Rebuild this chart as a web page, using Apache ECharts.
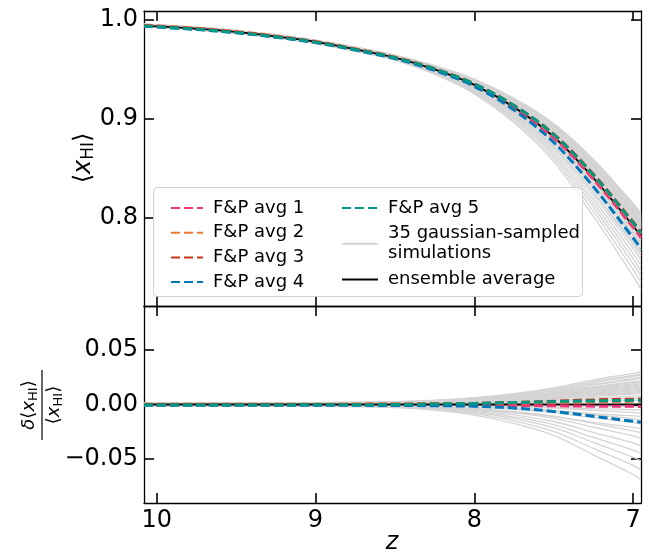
<!DOCTYPE html>
<html><head><meta charset="utf-8">
<script src="https://cdn.jsdelivr.net/npm/echarts@6/dist/echarts.min.js"></script>
<style>html,body{margin:0;padding:0;background:#fff}#c{width:649px;height:552px}</style>
</head><body><div id="c"></div>
<script>
// ---- data ----
const zValues = [10.08, 9.75, 9.5, 9.25, 9.0, 8.75, 8.5, 8.25, 8.0, 7.75, 7.5, 7.25, 7.0, 6.95];
const ensembleAverage = [0.9940, 0.9908, 0.9875, 0.9830, 0.9775, 0.9700, 0.9615, 0.9497, 0.9340, 0.9115, 0.8815, 0.8400, 0.7915, 0.7810];
const ensembleDelta = [0, 0, 0, 0, 0, 0, 0, 0, 0, 0, 0, 0, 0, 0];
const fpNames = ['F&P avg 1', 'F&P avg 2', 'F&P avg 3', 'F&P avg 4', 'F&P avg 5'];
const fpDelta1 = [0, 0, 0, 0, 0, 0, -0.0001, -0.0002, -0.0004, -0.0008, -0.0012, -0.0015, -0.0017, -0.0018];
const fpDelta2 = [0.0003, 0.0003, 0.0003, 0.0003, 0.0003, 0.0004, 0.0005, 0.0007, 0.0010, 0.0014, 0.0019, 0.0024, 0.0029, 0.0030];
const fpDelta3 = [0, 0, 0, 0, 0, 0.0001, 0.0002, 0.0004, 0.0009, 0.0018, 0.0030, 0.0042, 0.0049, 0.0050];
const fpDelta4 = [-0.0008, -0.0008, -0.0008, -0.0008, -0.0008, -0.0008, -0.0009, -0.0011, -0.0016, -0.0032, -0.0064, -0.0108, -0.0154, -0.0163];
const fpDelta5 = [-0.0005, -0.0005, -0.0005, -0.0004, -0.0003, -0.0002, 0, 0.0005, 0.0010, 0.0018, 0.0026, 0.0033, 0.0038, 0.0039];
const simName = '35 gaussian-sampled simulations';
const simDeltas = [
  [0.0015,0.0015,0.0015,0.0017,0.0018,0.0021,0.0026,0.0039,0.0063,0.0099,0.0153,0.0225,0.0285,0.0300],
  [0.0014,0.0014,0.0014,0.0015,0.0017,0.0020,0.0024,0.0036,0.0059,0.0092,0.0143,0.0210,0.0266,0.0280],
  [0.0014,0.0014,0.0014,0.0015,0.0016,0.0019,0.0023,0.0035,0.0057,0.0089,0.0138,0.0203,0.0257,0.0270],
  [0.0013,0.0013,0.0013,0.0014,0.0015,0.0018,0.0021,0.0033,0.0053,0.0083,0.0128,0.0188,0.0238,0.0250],
  [0.0012,0.0012,0.0012,0.0013,0.0014,0.0017,0.0020,0.0031,0.0050,0.0079,0.0122,0.0180,0.0228,0.0240],
  [0.0011,0.0011,0.0011,0.0012,0.0013,0.0015,0.0019,0.0029,0.0046,0.0073,0.0112,0.0165,0.0209,0.0220],
  [0.0011,0.0011,0.0011,0.0012,0.0013,0.0015,0.0018,0.0027,0.0044,0.0069,0.0107,0.0158,0.0200,0.0210],
  [0.0010,0.0010,0.0010,0.0011,0.0012,0.0014,0.0017,0.0026,0.0042,0.0066,0.0102,0.0150,0.0190,0.0200],
  [0.0010,0.0010,0.0010,0.0010,0.0011,0.0013,0.0016,0.0025,0.0040,0.0063,0.0097,0.0143,0.0181,0.0190],
  [0.0009,0.0009,0.0009,0.0010,0.0011,0.0013,0.0015,0.0023,0.0038,0.0059,0.0092,0.0135,0.0171,0.0180],
  [0.0009,0.0009,0.0009,0.0009,0.0010,0.0012,0.0014,0.0022,0.0036,0.0056,0.0087,0.0128,0.0162,0.0170],
  [0.0008,0.0008,0.0008,0.0009,0.0010,0.0011,0.0014,0.0021,0.0034,0.0053,0.0082,0.0120,0.0152,0.0160],
  [0.0008,0.0008,0.0008,0.0008,0.0009,0.0011,0.0013,0.0020,0.0032,0.0050,0.0077,0.0113,0.0143,0.0150],
  [0.0007,0.0007,0.0007,0.0008,0.0008,0.0010,0.0012,0.0018,0.0029,0.0046,0.0071,0.0105,0.0133,0.0140],
  [0.0007,0.0007,0.0007,0.0007,0.0008,0.0009,0.0011,0.0017,0.0027,0.0043,0.0066,0.0098,0.0124,0.0130],
  [0.0006,0.0006,0.0006,0.0007,0.0007,0.0008,0.0010,0.0016,0.0025,0.0040,0.0061,0.0090,0.0114,0.0120],
  [0.0006,0.0006,0.0006,0.0006,0.0007,0.0008,0.0009,0.0014,0.0023,0.0036,0.0056,0.0083,0.0105,0.0110],
  [0.0005,0.0005,0.0005,0.0006,0.0006,0.0007,0.0009,0.0013,0.0021,0.0033,0.0051,0.0075,0.0095,0.0100],
  [0.0004,0.0004,0.0004,0.0004,0.0005,0.0006,0.0007,0.0010,0.0017,0.0026,0.0041,0.0060,0.0076,0.0080],
  [0.0003,0.0003,0.0003,0.0003,0.0004,0.0004,0.0005,0.0008,0.0013,0.0020,0.0031,0.0045,0.0057,0.0060],
  [0.0002,0.0002,0.0002,0.0002,0.0002,0.0003,0.0003,0.0005,0.0008,0.0013,0.0020,0.0030,0.0038,0.0040],
  [-0.0001,-0.0001,-0.0001,-0.0001,-0.0001,-0.0001,-0.0002,-0.0003,-0.0004,-0.0007,-0.0010,-0.0015,-0.0019,-0.0020],
  [-0.0003,-0.0003,-0.0003,-0.0003,-0.0003,-0.0004,-0.0004,-0.0007,-0.0011,-0.0017,-0.0026,-0.0038,-0.0048,-0.0050],
  [-0.0002,-0.0002,-0.0002,-0.0002,-0.0002,-0.0002,-0.0003,-0.0006,-0.0011,-0.0020,-0.0033,-0.0054,-0.0074,-0.0080],
  [-0.0006,-0.0006,-0.0006,-0.0006,-0.0007,-0.0008,-0.0009,-0.0014,-0.0023,-0.0036,-0.0056,-0.0083,-0.0105,-0.0110],
  [-0.0003,-0.0003,-0.0003,-0.0003,-0.0004,-0.0004,-0.0006,-0.0011,-0.0020,-0.0035,-0.0057,-0.0094,-0.0130,-0.0140],
  [-0.0004,-0.0004,-0.0004,-0.0004,-0.0005,-0.0005,-0.0007,-0.0014,-0.0025,-0.0045,-0.0074,-0.0121,-0.0167,-0.0180],
  [-0.0011,-0.0011,-0.0011,-0.0012,-0.0013,-0.0015,-0.0019,-0.0029,-0.0046,-0.0073,-0.0112,-0.0165,-0.0209,-0.0220],
  [-0.0005,-0.0005,-0.0005,-0.0005,-0.0007,-0.0008,-0.0010,-0.0020,-0.0036,-0.0065,-0.0107,-0.0174,-0.0242,-0.0260],
  [-0.0006,-0.0006,-0.0006,-0.0006,-0.0008,-0.0009,-0.0012,-0.0023,-0.0043,-0.0078,-0.0127,-0.0208,-0.0288,-0.0310],
  [-0.0008,-0.0008,-0.0008,-0.0008,-0.0010,-0.0011,-0.0015,-0.0029,-0.0053,-0.0095,-0.0156,-0.0255,-0.0353,-0.0380],
  [-0.0009,-0.0009,-0.0009,-0.0009,-0.0011,-0.0014,-0.0018,-0.0034,-0.0063,-0.0113,-0.0185,-0.0302,-0.0419,-0.0450],
  [-0.0010,-0.0010,-0.0010,-0.0010,-0.0013,-0.0016,-0.0021,-0.0039,-0.0073,-0.0130,-0.0213,-0.0348,-0.0484,-0.0520],
  [-0.0012,-0.0012,-0.0012,-0.0012,-0.0015,-0.0018,-0.0024,-0.0045,-0.0084,-0.0150,-0.0246,-0.0402,-0.0558,-0.0600],
  [-0.0014,-0.0014,-0.0014,-0.0014,-0.0017,-0.0021,-0.0028,-0.0052,-0.0097,-0.0173,-0.0283,-0.0462,-0.0642,-0.0690]
];
const xTicks = [7, 8, 9, 10];
const yTicksTop = [0.8, 0.9, 1.0];
const yTicksBottom = [-0.05, 0, 0.05];

// ---- styles ----
const FONT = 'DejaVu Sans';
const fpColors = ['#EE3377', '#EE7733', '#CC3311', '#0077BB', '#009988'];
const fpDeltas = [fpDelta1, fpDelta2, fpDelta3, fpDelta4, fpDelta5];
const X_MIN = 6.95, X_MAX = 10.08;

function xAx(grid, pos, labels) {
  return {
    type: 'value', gridIndex: grid, position: pos, min: X_MIN, max: X_MAX, inverse: true,
    axisLine: { show: true, onZero: false, lineStyle: { color: '#000', width: 1.3 } },
    axisTick: { show: true, inside: true, length: 10, customValues: xTicks, lineStyle: { color: '#000', width: 1.6 } },
    axisLabel: { show: labels, customValues: xTicks, fontSize: 24, color: '#000', fontFamily: FONT, margin: 6,
      formatter: v => String(Math.round(v)) },
    splitLine: { show: false }
  };
}
function yAx(grid, pos, labels, min, max, ticks, fmt) {
  return {
    type: 'value', gridIndex: grid, position: pos, min: min, max: max,
    axisLine: { show: true, onZero: false, lineStyle: { color: '#000', width: 1.3 } },
    axisTick: { show: true, inside: true, length: 10, customValues: ticks, lineStyle: { color: '#000', width: 1.6 } },
    axisLabel: { show: labels, customValues: ticks, fontSize: 24, color: '#000', fontFamily: FONT, margin: 6, formatter: fmt },
    splitLine: { show: false }
  };
}

const series = [];
const grayStyle = { color: '#d4d4d4', width: 1.3 };
simDeltas.forEach(d => {
  series.push({ type: 'line', name: simName, xAxisIndex: 0, yAxisIndex: 0, symbol: 'none', smooth: 0.35, z: 1,
    lineStyle: grayStyle, itemStyle: { color: '#d4d4d4' }, silent: true,
    data: zValues.map((z, i) => [z, ensembleAverage[i] * (1 + d[i])]) });
  series.push({ type: 'line', name: simName, xAxisIndex: 2, yAxisIndex: 2, symbol: 'none', smooth: 0.35, z: 1,
    lineStyle: grayStyle, itemStyle: { color: '#d4d4d4' }, silent: true,
    data: zValues.map((z, i) => [z, d[i]]) });
});
series.push({ type: 'line', name: 'ensemble average', xAxisIndex: 0, yAxisIndex: 0, symbol: 'none', smooth: 0.35, z: 2,
  lineStyle: { color: '#000', width: 1.8 }, itemStyle: { color: '#000' }, silent: true,
  data: zValues.map((z, i) => [z, ensembleAverage[i]]) });
series.push({ type: 'line', name: 'ensemble average', xAxisIndex: 2, yAxisIndex: 2, symbol: 'none', z: 2,
  lineStyle: { color: '#000', width: 1.8 }, itemStyle: { color: '#000' }, silent: true,
  data: zValues.map((z, i) => [z, ensembleDelta[i]]) });
fpDeltas.forEach((d, k) => {
  const ls = { color: fpColors[k], width: 3, type: [9, 4] };
  series.push({ type: 'line', name: fpNames[k], xAxisIndex: 0, yAxisIndex: 0, symbol: 'none', smooth: 0.35, z: 3,
    lineStyle: ls, itemStyle: { color: fpColors[k] }, silent: true,
    data: zValues.map((z, i) => [z, ensembleAverage[i] * (1 + d[i])]) });
  series.push({ type: 'line', name: fpNames[k], xAxisIndex: 2, yAxisIndex: 2, symbol: 'none', smooth: 0.35, z: 3,
    lineStyle: ls, itemStyle: { color: fpColors[k] }, silent: true,
    data: zValues.map((z, i) => [z, d[i]]) });
});

const legendText = { fontSize: 18, lineHeight: 20, fontFamily: FONT, color: '#000', padding: [0, 0, 0, 5] };
const rich24 = {
  i: { fontStyle: 'italic', fontSize: 24, fontFamily: FONT, verticalAlign: 'middle' },
  s: { fontSize: 17, fontFamily: FONT, verticalAlign: 'middle', padding: [10, 0, 0, 0] }
};
const rich18 = {
  i: { fontStyle: 'italic', fontSize: 18, fontFamily: FONT, verticalAlign: 'middle' },
  s: { fontSize: 13, fontFamily: FONT, verticalAlign: 'middle', padding: [8, 0, 0, 0] }
};

const option = {
  backgroundColor: '#fff',
  animation: false,
  grid: [
    { left: 144, right: 8, top: 11, height: 295 },
    { left: 144, right: 8, top: 306, height: 197 }
  ],
  xAxis: [xAx(0, 'bottom', false), xAx(0, 'top', false), xAx(1, 'bottom', true), xAx(1, 'top', false)],
  yAxis: [
    yAx(0, 'left', true, 0.7104, 1.0087, yTicksTop, v => v.toFixed(1)),
    yAx(0, 'right', false, 0.7104, 1.0087, yTicksTop, v => v.toFixed(1)),
    yAx(1, 'left', true, -0.0904, 0.0904, yTicksBottom, v => (v < 0 ? '\u2212' : '') + Math.abs(v).toFixed(2)),
    yAx(1, 'right', false, -0.0904, 0.0904, yTicksBottom, v => v.toFixed(2))
  ],
  legend: [
    { data: fpNames.slice(0, 4), orient: 'vertical', left: 165, top: 193, itemWidth: 32, itemHeight: 14, itemGap: 4.7,
      selectedMode: false, textStyle: legendText, itemStyle: { opacity: 0 }, z: 5 },
    { data: ['F&P avg 5', simName, 'ensemble average'], orient: 'vertical', left: 336, top: 193, itemWidth: 36, itemHeight: 14, itemGap: 5.8,
      selectedMode: false, textStyle: legendText, itemStyle: { opacity: 0 }, z: 5,
      formatter: n => n === simName ? '35 gaussian-sampled\nsimulations' : n }
  ],
  graphic: [
    { type: 'rect', z: 4, shape: { x: 153.5, y: 187.5, width: 429, height: 109, r: 4 },
      style: { fill: 'rgba(255,255,255,0.8)', stroke: '#d0d0d0', lineWidth: 1 } },
    { type: 'text', x: 84, y: 158, rotation: Math.PI / 2, z: 10,
      style: { text: '\u27E8{i|x}{s|HI}\u27E9', fontSize: 24, fontFamily: FONT, fill: '#000', align: 'center', verticalAlign: 'middle', rich: rich24 } },
    { type: 'group', x: 42, y: 405, rotation: Math.PI / 2, z: 10, children: [
      { type: 'text', x: 0, y: -2, style: { text: '{i|\u03B4}\u27E8{i|x}{s|HI}\u27E9', fontSize: 18, fontFamily: FONT, fill: '#000', align: 'center', verticalAlign: 'bottom', rich: rich18 } },
      { type: 'line', shape: { x1: -35, y1: 0, x2: 35, y2: 0 }, style: { stroke: '#000', lineWidth: 1.2 } },
      { type: 'text', x: 0, y: 2, style: { text: '\u27E8{i|x}{s|HI}\u27E9', fontSize: 18, fontFamily: FONT, fill: '#000', align: 'center', verticalAlign: 'top', rich: rich18 } }
    ] },
    { type: 'text', x: 392, y: 543, z: 10,
      style: { text: 'z', fontSize: 24, fontStyle: 'italic', fontFamily: FONT, fill: '#000', align: 'center', verticalAlign: 'middle' } }
  ],
  series: series
};
const chart = echarts.init(document.getElementById('c'), null, { renderer: 'canvas' });
chart.setOption(option);
</script>
</body></html>
